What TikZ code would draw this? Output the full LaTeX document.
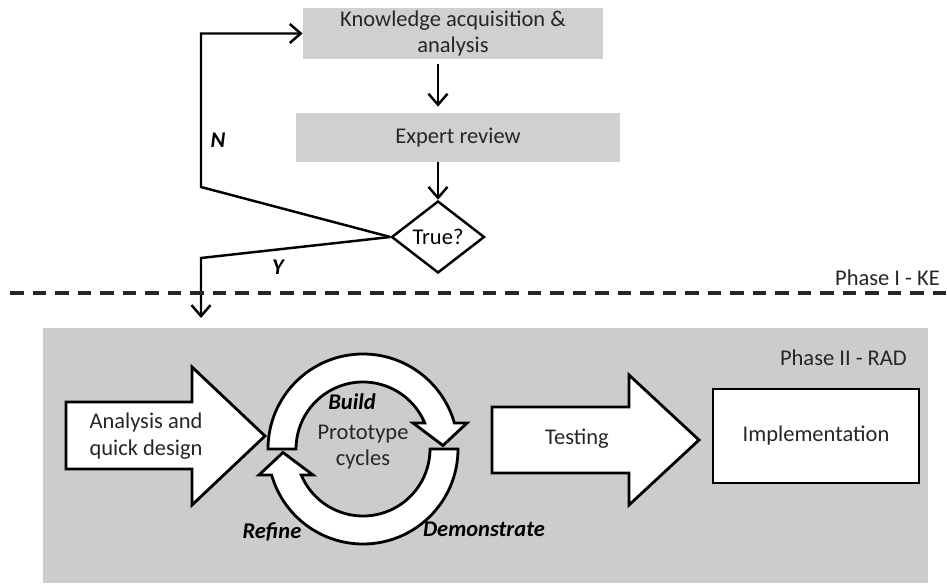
\documentclass[tikz,border=0pt]{standalone}
\usepackage{fontspec}
\setmainfont{Carlito}
\usetikzlibrary{arrows.meta,shapes.geometric}
\definecolor{kastengrau}{HTML}{D0D0D0}
\definecolor{flaeche}{HTML}{CCCCCC}
\definecolor{schrift}{HTML}{262626}
\definecolor{strich}{HTML}{262626}
\tikzset{
  kasten/.style={fill=kastengrau,text=schrift,align=center,inner sep=0pt},
  raute/.style={diamond,draw=black,fill=white,line width=1.4pt,text=black,inner sep=0pt,
                minimum width=1.86cm,minimum height=1.44cm,aspect=1.3},
  pfeil/.style={-{Straight Barb[length=2.2mm,width=3.8mm]},black,line width=1.4pt},
  blockpfeil/.style={draw=black,fill=white,line width=1.6pt,line join=miter},
  marke/.style={font=\fontsize{12.8}{15.4}\selectfont\bfseries\itshape,text=black},
  beschr/.style={text=schrift,align=center},
  trenn/.style={strich,line width=1.9pt,dash pattern=on 0.27cm off 0.18cm},
}
\begin{document}
\begin{tikzpicture}[font=\fontsize{12.8}{15}\selectfont]
  \useasboundingbox (0,0) rectangle (18.94,11.66);
  % Phase I
  \node[kasten,minimum width=6.0cm,minimum height=1.02cm] (kaa) at (9.06,10.99) {Knowledge acquisition \&\\analysis};
  \node[kasten,minimum width=6.48cm,minimum height=0.98cm] (rev) at (9.16,8.91) {Expert review};
  \node[raute] (dia) at (8.76,6.92) {True?};
  \draw[pfeil,shorten <=1mm,shorten >=1.2mm] (kaa.south -| dia) -- (rev.north -| dia);
  \draw[pfeil] (rev.south -| dia) -- (dia.north);
  % Rueckfuehrung N / Weiter Y
  \coordinate (nknick) at (4.02,7.92);
  \coordinate (yknick) at (4.02,6.50);
  \coordinate (ein) at (4.02,5.30);
  \draw[pfeil] (dia.west) -- (nknick) |- (kaa.west);
  \draw[pfeil] (dia.west) -- (yknick) -- (ein);
  \node[marke] (nlab) at (4.36,8.86) {N};
  \node[marke] (ylab) at (5.56,6.32) {Y};
  % Trennlinie
  \draw[trenn] (0.2,5.80) -- (18.94,5.80);
  \node[beschr,anchor=east] (ph1) at (18.92,6.10) {Phase I - KE};
  % Phase II
  \fill[flaeche] (0.86,0) rectangle (18.56,5.10);
  \node[beschr,anchor=east] (ph2) at (18.26,4.50) {Phase II - RAD};
  \draw[blockpfeil] (1.32,3.62) -- (3.84,3.62) -- (3.84,4.32) -- (5.30,2.94)
    -- (3.84,1.56) -- (3.84,2.28) -- (1.32,2.28) -- cycle;
  \node[beschr] (ana) at (2.92,2.94) {Analysis and\\quick design};
  % Prototypzyklus
  \begin{scope}[shift={(7.26,2.68)}]
    \draw[blockpfeil] (180:1.90) arc[start angle=180,end angle=15.9,radius=1.90]
      -- (2.08,0.52) -- (1.60,0.07) -- (1.00,0.52) -- (22.8:1.34)
      arc[start angle=22.8,end angle=180,radius=1.34] -- cycle;
    \draw[blockpfeil] (0:1.90) arc[start angle=0,end angle=-164.1,radius=1.90]
      -- (-2.08,-0.52) -- (-1.60,-0.07) -- (-1.00,-0.52) -- (-157.2:1.34)
      arc[start angle=-157.2,end angle=0,radius=1.34] -- cycle;
  \end{scope}
  \node[beschr] (proto) at (7.26,2.72) {Prototype\\cycles};
  \node[marke] (build) at (7.04,3.62) {Build};
  \node[marke] (refine) at (5.44,1.02) {Refine};
  \node[marke] (demo) at (9.68,1.08) {Demonstrate};
  % Test und Umsetzung
  \draw[blockpfeil] (9.84,3.52) -- (12.58,3.52) -- (12.58,4.16) -- (13.98,2.86)
    -- (12.58,1.56) -- (12.58,2.20) -- (9.84,2.20) -- cycle;
  \node[beschr] (test) at (11.54,2.88) {Testing};
  \node[draw=black,fill=white,line width=1.6pt,text=schrift,minimum width=4.12cm,
        minimum height=1.88cm] (impl) at (16.32,2.94) {Implementation};
\end{tikzpicture}
\end{document}
